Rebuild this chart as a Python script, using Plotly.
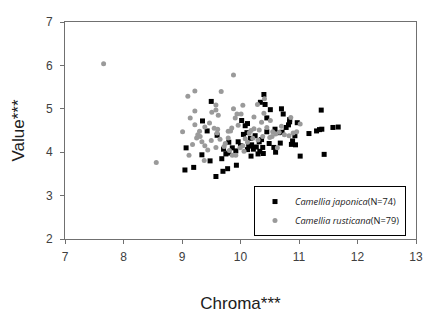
import plotly.graph_objects as go

# Camellia japonica (black squares): chroma, value
jap_chroma = [10.40, 9.50, 10.34, 10.42, 10.51, 10.70, 11.38, 10.73, 10.45, 10.02,
              9.35, 10.84, 10.12, 10.08, 10.97, 9.43, 10.78, 10.82, 10.59, 9.60,
              10.05, 10.11, 10.45, 10.65, 10.71, 11.17, 11.30, 11.35, 11.39, 11.58,
              11.67, 10.93, 10.17, 10.32, 10.36, 9.80, 10.49, 9.07, 10.00, 10.14,
              10.19, 10.38, 10.87, 10.94, 10.89, 10.57, 9.71, 9.86, 9.92, 10.22,
              10.12, 10.33, 10.60, 10.30, 9.34, 9.75, 9.80, 10.18, 11.02, 11.43,
              9.48, 9.68, 9.93, 9.05, 9.20, 9.70, 9.78, 9.58, 10.25, 9.96,
              10.39, 10.68, 10.27, 10.84]
jap_value = [5.33, 5.17, 5.15, 5.10, 4.98, 5.00, 4.97, 4.88, 4.79, 4.73,
             4.72, 4.75, 4.66, 4.61, 4.68, 4.49, 4.57, 4.63, 4.53, 4.39,
             4.41, 4.45, 4.47, 4.45, 4.46, 4.43, 4.49, 4.52, 4.53, 4.57,
             4.58, 4.38, 4.32, 4.24, 4.29, 4.23, 4.20, 4.10, 4.15, 4.14,
             4.17, 4.11, 4.18, 4.17, 4.26, 4.11, 4.07, 4.10, 4.03, 4.07,
             4.06, 4.02, 4.00, 3.96, 3.94, 3.96, 3.98, 3.91, 3.91, 3.95,
             3.80, 3.85, 3.70, 3.59, 3.65, 3.56, 3.62, 3.44, 4.38, 4.24,
             3.97, 4.21, 4.12, 4.70]

# Camellia rusticana (gray circles): chroma, value
rus_chroma = [7.66, 9.88, 9.22, 9.10, 9.67, 10.41, 9.58, 9.58, 9.22, 9.51,
              9.88, 10.04, 10.29, 9.94, 10.01, 9.14, 9.91, 10.23, 10.40, 9.22,
              9.39, 10.36, 10.51, 10.86, 11.02, 9.01, 9.55, 9.61, 9.79, 9.83,
              9.60, 10.32, 10.55, 9.25, 9.31, 9.34, 9.39, 9.79, 10.08, 10.21,
              10.54, 10.83, 10.96, 9.58, 9.72, 10.04, 10.63, 9.12, 9.81, 9.86,
              9.92, 9.38, 8.56, 10.23, 10.38, 9.96, 9.50, 10.66, 10.12, 9.27,
              10.45, 9.74, 10.60, 9.44, 10.18, 10.70, 9.65, 10.90, 10.06, 9.85,
              9.18, 10.30, 9.47, 10.50, 9.99, 10.75, 9.62, 10.15, 9.30]
rus_value = [6.04, 5.78, 5.41, 5.29, 5.40, 5.23, 5.09, 4.97, 4.95, 4.92,
             5.00, 5.08, 5.10, 4.88, 4.88, 4.79, 4.79, 4.81, 4.90, 4.63,
             4.58, 4.69, 4.73, 4.80, 4.65, 4.47, 4.55, 4.53, 4.48, 4.49,
             4.44, 4.51, 4.47, 4.33, 4.36, 4.24, 4.15, 4.33, 4.31, 4.32,
             4.36, 4.38, 4.47, 4.11, 4.13, 4.15, 4.10, 3.93, 4.04, 3.93,
             3.93, 3.81, 3.76, 4.54, 4.36, 4.62, 4.27, 4.46, 4.23, 4.40,
             4.57, 4.20, 4.42, 4.05, 4.50, 4.60, 4.30, 4.44, 4.02, 4.56,
             4.18, 4.28, 4.67, 4.34, 4.10, 4.40, 4.85, 4.44, 4.48]

x_ticks = [7, 8, 9, 10, 11, 12, 13]
y_ticks = [2, 3, 4, 5, 6, 7]

fig = go.Figure()
fig.add_trace(go.Scatter(
    x=jap_chroma, y=jap_value, mode="markers",
    name="<i>Camellia japonica</i>(N=74)",
    marker=dict(symbol="square", size=5, color="#000000"),
))
fig.add_trace(go.Scatter(
    x=rus_chroma, y=rus_value, mode="markers",
    name="<i>Camellia rusticana</i>(N=79)",
    marker=dict(symbol="circle", size=5, color="#9a9a9a"),
))

FONT = "Liberation Sans"
axis_common = dict(
    showline=True, linecolor="#707070", linewidth=1, mirror=True,
    showgrid=False, zeroline=False, ticks="outside", ticklen=4, automargin=False,
    tickcolor="#707070", tickfont=dict(family=FONT, size=12, color="#404040"),
)
fig.update_xaxes(range=[7, 13], tickvals=x_ticks, ticklabelstandoff=3,
                 title=dict(text="Chroma***", font=dict(family=FONT, size=17, color="#202020"), standoff=36),
                 **axis_common)
fig.update_yaxes(range=[2, 7], tickvals=y_ticks, ticklabelstandoff=5,
                 title=dict(text="Value***", font=dict(family=FONT, size=17, color="#202020"), standoff=16),
                 **axis_common)

# page body adds an 8px offset; margins compensate so the plot area lands at x 65-416, y 22-239
fig.update_layout(
    width=430, height=305,
    margin=dict(l=57, r=22, t=14, b=74),
    paper_bgcolor="white", plot_bgcolor="white",
    legend=dict(x=0.9715, y=0.244, xanchor="right", yanchor="top",
                bordercolor="#000000", borderwidth=1, bgcolor="white",
                font=dict(family="Open Sans", size=9.2, color="#202020"),
                tracegroupgap=2, itemwidth=30),
    showlegend=True,
)

fig.write_html("out.html")
